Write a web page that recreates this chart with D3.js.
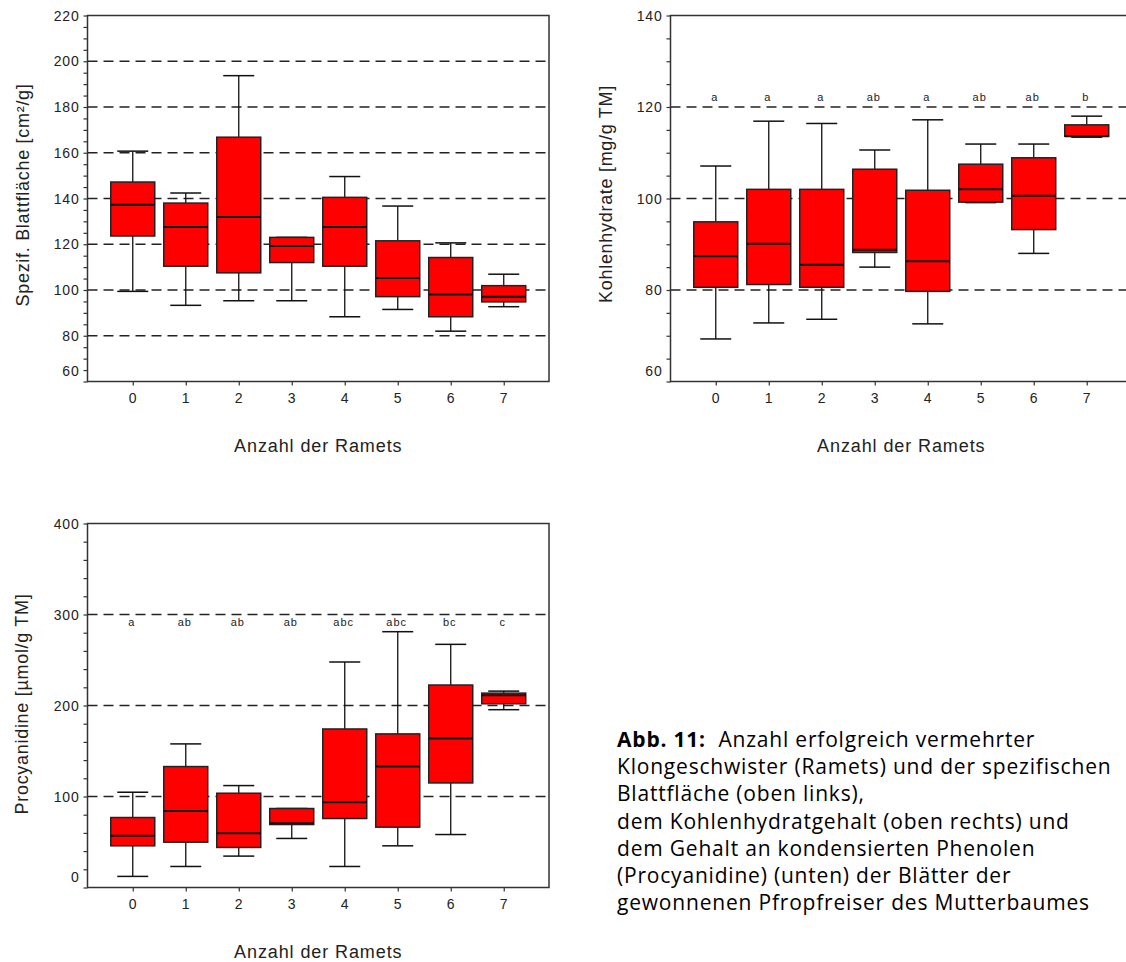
<!DOCTYPE html>
<html>
<head>
<meta charset="utf-8">
<script src="https://cdn.jsdelivr.net/npm/d3@7"></script>
<style>
  html, body { margin: 0; padding: 0; background: #fff; }
  svg { display: block; }
</style>
</head>
<body>
<svg id="chart" width="1126" height="962"></svg>
<script>
// ---------- data ----------
const categories = [0, 1, 2, 3, 4, 5, 6, 7];

// Spezifische Blattfläche [cm²/g]
const slaLow    = [99.4, 93.3, 95.3, 95.3, 88.3, 91.5, 82.0, 92.7];
const slaQ1     = [123.6, 110.4, 107.5, 112.0, 110.4, 97.1, 88.3, 94.8];
const slaMedian = [137.3, 127.5, 131.9, 119.2, 127.5, 105.3, 98.0, 97.1];
const slaQ3     = [147.2, 138.0, 166.8, 123.0, 140.5, 121.5, 114.2, 101.9];
const slaHigh   = [160.7, 142.4, 193.7, 123.0, 149.6, 136.7, 120.6, 106.9];
const slaTicks  = [60, 80, 100, 120, 140, 160, 180, 200, 220];

// Kohlenhydrate [mg/g TM]
const khLow     = [69.3, 72.8, 73.6, 85.0, 72.6, 99.1, 88.0, 113.4];
const khQ1      = [80.6, 81.2, 80.6, 88.2, 79.7, 99.2, 93.2, 113.6];
const khMedian  = [87.4, 90.1, 85.5, 88.8, 86.3, 102.0, 100.6, 113.6];
const khQ3      = [94.9, 102.0, 102.0, 106.4, 101.8, 107.5, 108.9, 116.1];
const khHigh    = [107.1, 116.9, 116.4, 110.6, 117.2, 111.9, 111.9, 118.0];
const khTicks   = [60, 80, 100, 120, 140];
const khLetters = ["a", "a", "a", "ab", "a", "ab", "ab", "b"];

// Procyanidine [µmol/g TM]
const pcLow     = [12.2, 23.1, 34.5, 53.9, 23.1, 45.8, 58.2, 195.4];
const pcQ1      = [45.8, 49.8, 44.0, 69.2, 75.8, 66.3, 114.9, 201.9];
const pcMedian  = [56.8, 84.2, 59.7, 70.7, 93.8, 132.9, 163.6, 211.4];
const pcQ3      = [76.9, 132.9, 103.6, 86.8, 174.2, 168.8, 222.5, 213.6];
const pcHigh    = [104.7, 157.8, 112.0, 86.8, 247.8, 281.1, 267.2, 215.8];
const pcTicks   = [0, 100, 200, 300, 400];
const pcLetters = ["a", "ab", "ab", "ab", "abc", "abc", "bc", "c"];

const xTitle = "Anzahl der Ramets";

const captionLines = [
  [{t: "Abb. 11:", b: true}, {t: "  Anzahl erfolgreich vermehrter", b: false}],
  [{t: "Klongeschwister (Ramets) und der spezifischen", b: false}],
  [{t: "Blattfläche (oben links),", b: false}],
  [{t: "dem Kohlenhydratgehalt (oben rechts) und", b: false}],
  [{t: "dem Gehalt an kondensierten Phenolen", b: false}],
  [{t: "(Procyanidine) (unten) der Blätter der", b: false}],
  [{t: "gewonnenen Pfropfreiser des Mutterbaumes", b: false}]
];

// ---------- drawing ----------
const svg = d3.select("#chart");
const FONT = "'Liberation Sans', Arial, sans-serif";

function panel(cfg) {
  const g = svg.append("g");
  const x = d3.scalePoint().domain(categories).range([cfg.left, cfg.right]).padding(0.854);
  const y = d3.scaleLinear().domain(cfg.domain).range([cfg.bottom, cfg.top]);

  // gridlines (inner major ticks)
  const inner = cfg.ticks.filter(t => t > cfg.domain[0] && t < cfg.domain[1]);
  g.append("g").selectAll("line").data(inner).join("line")
    .attr("x1", cfg.left).attr("x2", cfg.right)
    .attr("y1", d => y(d)).attr("y2", d => y(d))
    .attr("stroke", "#222").attr("stroke-width", 1.5)
    .attr("stroke-dasharray", "10,6");

  // y axis (minor + major ticks)
  const minor = d3.range(cfg.domain[0], cfg.domain[1] + 0.001, cfg.minorStep);
  const yAxis = d3.axisLeft(y).tickValues(minor).tickSize(4).tickFormat("");
  const ya = g.append("g").attr("transform", `translate(${cfg.left},0)`).call(yAxis);
  ya.select(".domain").remove();
  ya.selectAll("line").attr("stroke", "#333").attr("stroke-width", 1.2);

  g.append("g").selectAll("text").data(cfg.ticks).join("text")
    .attr("x", cfg.left - 8)
    .attr("y", d => y(d) + (d === cfg.domain[0] ? -11 : 0))
    .attr("dy", "0.36em")
    .attr("text-anchor", "end")
    .attr("font-family", FONT).attr("font-size", 14).attr("letter-spacing", "0.8px")
    .attr("fill", "#222")
    .text(d => d);

  // x axis ticks
  const xAxis = d3.axisBottom(x).tickSize(4).tickFormat("");
  const xa = g.append("g").attr("transform", `translate(0,${cfg.bottom})`).call(xAxis);
  xa.select(".domain").remove();
  xa.selectAll("line").attr("stroke", "#333").attr("stroke-width", 1.2);
  g.append("g").selectAll("text").data(categories).join("text")
    .attr("x", d => x(d)).attr("y", cfg.bottom + 21)
    .attr("text-anchor", "middle")
    .attr("font-family", FONT).attr("font-size", 14).attr("fill", "#222")
    .text(d => d);

  // boxes
  const bw = 44, cw = 31;
  const data = categories.map((c, i) => ({
    c, lo: cfg.low[i], q1: cfg.q1[i], med: cfg.med[i], q3: cfg.q3[i], hi: cfg.high[i]
  }));
  const bg = g.append("g").selectAll("g").data(data).join("g");
  bg.append("line")
    .attr("x1", d => x(d.c)).attr("x2", d => x(d.c))
    .attr("y1", d => y(d.hi)).attr("y2", d => y(d.q3))
    .attr("stroke", "#111").attr("stroke-width", 1.3);
  bg.append("line")
    .attr("x1", d => x(d.c)).attr("x2", d => x(d.c))
    .attr("y1", d => y(d.q1)).attr("y2", d => y(d.lo))
    .attr("stroke", "#111").attr("stroke-width", 1.3);
  bg.append("line")
    .attr("x1", d => x(d.c) - cw / 2).attr("x2", d => x(d.c) + cw / 2)
    .attr("y1", d => y(d.hi)).attr("y2", d => y(d.hi))
    .attr("stroke", "#111").attr("stroke-width", 1.5);
  bg.append("line")
    .attr("x1", d => x(d.c) - cw / 2).attr("x2", d => x(d.c) + cw / 2)
    .attr("y1", d => y(d.lo)).attr("y2", d => y(d.lo))
    .attr("stroke", "#111").attr("stroke-width", 1.5);
  bg.append("rect")
    .attr("x", d => x(d.c) - bw / 2).attr("width", bw)
    .attr("y", d => y(d.q3)).attr("height", d => y(d.q1) - y(d.q3))
    .attr("fill", "#ff0000").attr("stroke", "#222").attr("stroke-width", 1.5);
  bg.append("line")
    .attr("x1", d => x(d.c) - bw / 2).attr("x2", d => x(d.c) + bw / 2)
    .attr("y1", d => y(d.med)).attr("y2", d => y(d.med))
    .attr("stroke", "#111").attr("stroke-width", 2);

  // significance letters
  if (cfg.letters) {
    g.append("g").selectAll("text").data(cfg.letters).join("text")
      .attr("x", (d, i) => x(categories[i]) - 1)
      .attr("y", y(cfg.letterY))
      .attr("dy", "0.35em")
      .attr("text-anchor", "middle")
      .attr("font-family", FONT).attr("font-size", 11).attr("letter-spacing", "1px")
      .attr("fill", "#222")
      .text(d => d);
  }

  // frame
  g.append("rect")
    .attr("x", cfg.left).attr("y", cfg.top)
    .attr("width", cfg.right - cfg.left).attr("height", cfg.bottom - cfg.top)
    .attr("fill", "none").attr("stroke", "#333").attr("stroke-width", 1.5);

  // titles
  g.append("text")
    .attr("x", (cfg.left + cfg.right) / 2).attr("y", cfg.bottom + 70)
    .attr("text-anchor", "middle")
    .attr("font-family", FONT).attr("font-size", 18).attr("letter-spacing", "0.9px")
    .attr("fill", "#222")
    .text(xTitle);
  g.append("text")
    .attr("transform", `translate(${cfg.yTitleX},${cfg.yTitleY}) rotate(-90)`)
    .attr("text-anchor", "middle")
    .attr("dy", "0.35em")
    .attr("font-family", FONT).attr("font-size", 18).attr("letter-spacing", "0.7px")
    .attr("fill", "#222")
    .text(cfg.yTitle);
}

panel({
  left: 87.5, right: 549, top: 15.5, bottom: 381.5,
  domain: [60, 220], ticks: slaTicks, minorStep: 5,
  low: slaLow, q1: slaQ1, med: slaMedian, q3: slaQ3, high: slaHigh,
  yTitle: "Spezif. Blattfläche [cm²/g]", yTitleX: 23, yTitleY: 195
});

panel({
  left: 670.5, right: 1132, top: 15.5, bottom: 381.5,
  domain: [60, 140], ticks: khTicks, minorStep: 5,
  low: khLow, q1: khQ1, med: khMedian, q3: khQ3, high: khHigh,
  letters: khLetters, letterY: 122.2,
  yTitle: "Kohlenhydrate [mg/g TM]", yTitleX: 606, yTitleY: 194
});

panel({
  left: 87.5, right: 549, top: 523.5, bottom: 887.5,
  domain: [0, 400], ticks: pcTicks, minorStep: 20,
  low: pcLow, q1: pcQ1, med: pcMedian, q3: pcQ3, high: pcHigh,
  letters: pcLetters, letterY: 292,
  yTitle: "Procyanidine [µmol/g TM]", yTitleX: 22, yTitleY: 704
});

// caption
const cap = svg.append("text")
  .attr("font-family", "'Open Sans', Lato, sans-serif")
  .attr("font-size", 21).attr("letter-spacing", "0.8px").attr("fill", "#000");
captionLines.forEach((line, i) => {
  const t = cap.append("tspan").attr("x", 617).attr("y", 747 + i * 27.2);
  line.forEach((seg, j) => {
    const s = j === 0 ? t : cap.append("tspan");
    s.attr("font-weight", seg.b ? "bold" : "normal")
     .attr("xml:space", "preserve")
     .text(seg.t);
  });
});
</script>
</body>
</html>
